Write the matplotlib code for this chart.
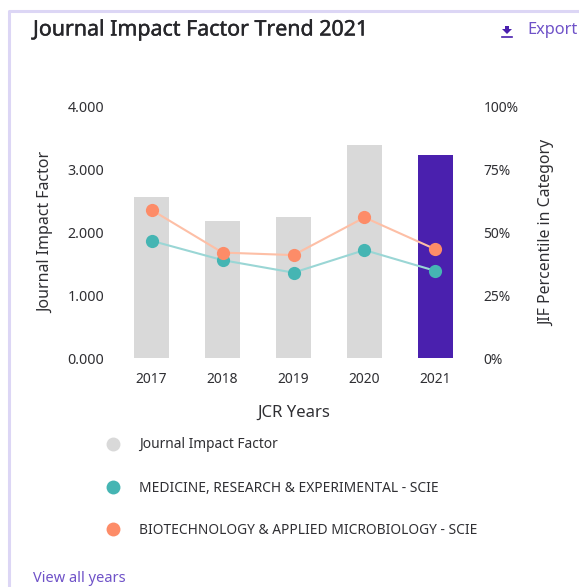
import matplotlib
matplotlib.use("Agg")
import matplotlib.pyplot as plt
import matplotlib.patheffects as pe
from matplotlib.lines import Line2D
from matplotlib.patches import Polygon

plt.rcParams['font.family'] = ['Noto Sans', 'DejaVu Sans']

years = ["2017", "2018", "2019", "2020", "2021"]
jif = [2.566, 2.183, 2.25, 3.395, 3.235]
medicine_pct = [46.7, 39, 34, 43, 34.7]
biotech_pct = [59, 42, 41, 56, 43.3]
left_ticks = ["0.000", "1.000", "2.000", "3.000", "4.000"]
right_ticks = ["0%", "25%", "50%", "75%", "100%"]
legend_labels = ["Journal Impact Factor", "MEDICINE, RESEARCH & EXPERIMENTAL - SCIE",
                 "BIOTECHNOLOGY & APPLIED MICROBIOLOGY - SCIE"]

W = 579
H = 587
GREY = "#d9d9d9"
PURPLE = "#4a20ae"
TEAL = "#45b5b3"
ORANGE = "#fd8c68"
TEXT = "#2f2f33"
LINK = "#6f52c8"
BORDER = "#dcd6f5"

def px(x, y):
    return x/W, 1-y/H

fig = plt.figure(figsize=(W/100, H/100), dpi=100)

# card border, only top and left are in the crop
fig.add_artist(Line2D([8.5/W, 8.5/W, 1], [0, 1-10.5/H, 1-10.5/H], color=BORDER, lw=2.2,
                      transform=fig.transFigure))

ax = fig.add_axes([116/W, 1-358/H, 355/W, 251/H])
xs = list(range(len(years)))
colors = [GREY]*4 + [PURPLE]
ax.bar(xs, jif, width=0.5, color=colors, zorder=1)
ax.set_xlim(-0.5, 4.5)
ax.set_ylim(0, 4)
ax.set_xticks(xs)
ax.set_xticklabels(years, fontsize=10, color=TEXT)
ax.set_yticks([0, 1, 2, 3, 4])
ax.set_yticklabels(left_ticks, fontsize=10.3, color=TEXT)
ax.tick_params(axis='x', length=0, pad=10)
ax.tick_params(axis='y', length=0, pad=8.5)
ax.set_xlabel("JCR Years", fontsize=12, color=TEXT, va="center")
ax.xaxis.set_label_coords(0.5, (358-413)/251)
ax.set_ylabel("Journal Impact Factor", fontsize=11.5, color=TEXT, va="center")
ax.yaxis.set_label_coords((46-116)/355, 0.5)
for s in ax.spines.values():
    s.set_visible(False)

ax2 = ax.twinx()
ax2.set_ylim(0, 100)
ax2.set_yticks([0, 25, 50, 75, 100])
ax2.set_yticklabels(right_ticks, fontsize=10, color=TEXT)
ax2.tick_params(length=0, pad=9)
ax2.set_ylabel("JIF Percentile in Category", fontsize=11.4, color=TEXT, va="center")
ax2.yaxis.set_label_coords((547-116)/355, 0.5)
for s in ax2.spines.values():
    s.set_visible(False)

ax2.plot(xs, medicine_pct, color="#9ad6d5", lw=1.5, zorder=2)
ax2.plot(xs, medicine_pct, ls="none", marker="o", ms=9.5, color=TEAL, mew=0, zorder=3)
ax2.plot(xs, biotech_pct, color="#fdbfa6", lw=1.5, zorder=4)
ax2.plot(xs, biotech_pct, ls="none", marker="o", ms=9.5, color=ORANGE, mew=0, zorder=5)

# header
x, y = px(33, 30)
title = fig.text(x, y, "Journal Impact Factor Trend 2021", fontsize=15.4, color="#26262a",
                 va="center", ha="left")
title.set_path_effects([pe.withStroke(linewidth=0.3, foreground="#26262a")])
x, y = px(527, 30)
fig.text(x, y, "Export", fontsize=11.8, color=LINK, va="center", ha="left")

# download icon
arrow = [(505, 26), (509, 26), (509, 29), (512, 29), (507, 34), (502, 29), (505, 29)]
fig.add_artist(Polygon([px(a, b) for a, b in arrow], closed=True, color=PURPLE, lw=0,
                       transform=fig.transFigure))
fig.add_artist(Line2D([502/W, 512/W], [1-36.5/H, 1-36.5/H], color=PURPLE, lw=1.2,
                      transform=fig.transFigure))

# legend, drawn by hand to keep the spacing
legend_colors = [GREY, TEAL, ORANGE]
legend_y = [444, 487, 529]
for lab, c, ly in zip(legend_labels, legend_colors, legend_y):
    x, y = px(113, ly)
    fig.add_artist(Line2D([x], [y], ls="none", marker="o", ms=10, color=c, mew=0,
                          transform=fig.transFigure))
    x, y = px(139, ly+1)
    fig.text(x, y, lab, fontsize=9.9, color=TEXT, va="center", ha="left")

x, y = px(33, 579)
fig.text(x, y, "View all years", fontsize=10.5, color=LINK, va="center", ha="left")

fig.savefig("out.png", dpi=100)
